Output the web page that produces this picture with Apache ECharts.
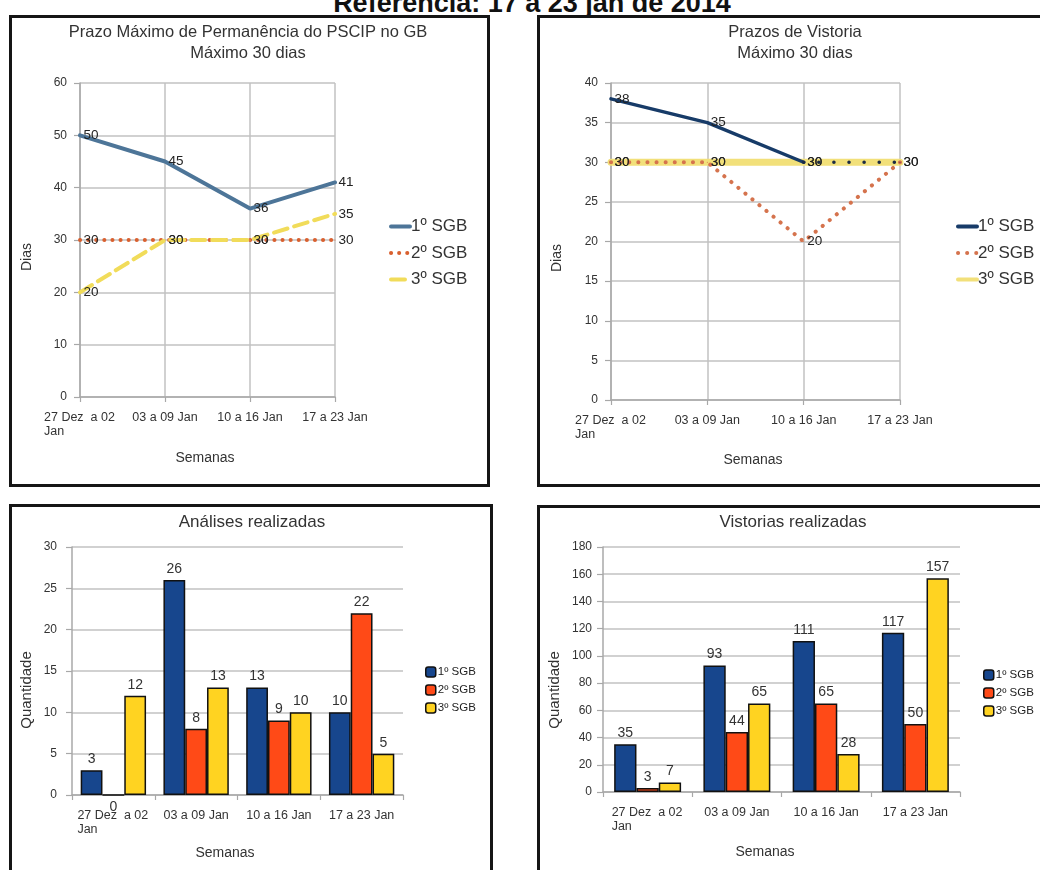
<!DOCTYPE html>
<html><head><meta charset="utf-8">
<script src="https://cdn.jsdelivr.net/npm/echarts@6/dist/echarts.min.js"></script>
<style>
html,body{margin:0;padding:0;width:1040px;height:870px;overflow:hidden;background:#fff;}
#hdr{position:absolute;left:0;width:1064px;top:-10px;text-align:center;font:bold 27px 'Liberation Sans',Arial,sans-serif;line-height:27px;color:#111;white-space:nowrap;}
.panel{position:absolute;box-sizing:border-box;border:3px solid #151515;background:#fff;}
.panel>div{position:absolute;left:0;top:0;width:100%;height:100%;}
</style></head>
<body>
<div id="hdr">Referência: 17 a 23 jan de 2014</div>
<div class="panel" style="left:9px;top:15px;width:481px;height:472px"><div id="c1"></div></div>
<div class="panel" style="left:537px;top:15px;width:520px;height:472px"><div id="c2"></div></div>
<div class="panel" style="left:9px;top:504px;width:484px;height:400px"><div id="c3"></div></div>
<div class="panel" style="left:537px;top:505px;width:520px;height:400px"><div id="c4"></div></div>
<script>
// ---- data ----
const weeks = ["27 Dez  a 02\nJan", "03 a 09 Jan", "10 a 16 Jan", "17 a 23 Jan"];
const sgbNames = ["1º SGB", "2º SGB", "3º SGB"];
const permanencia1 = [50, 45, 36, 41];
const permanencia2 = [30, 30, 30, 30];
const permanencia3 = [20, 30, 30, 35];
const prazoVistoria1 = [38, 35, 30, 30];
const prazoVistoria2 = [30, 30, 20, 30];
const prazoVistoria3 = [30, 30, 30, 30];
const analises1 = [3, 26, 13, 10];
const analises2 = [0, 8, 9, 22];
const analises3 = [12, 13, 10, 5];
const vistorias1 = [35, 93, 111, 117];
const vistorias2 = [3, 44, 65, 50];
const vistorias3 = [7, 65, 28, 157];

// ---- style helpers ----
const FONT = "'Liberation Sans', Arial, sans-serif";
const TXT = '#333';
const GRIDC = '#c2c2c2';
const AXC = '#a8a8a8';

function txt(x, y, text, size, rot) {
  return {type: 'text', x: x, y: y, rotation: rot || 0, z: 10,
    style: {text: text, x: 0, y: 0, align: 'center', verticalAlign: 'middle',
      fontFamily: FONT, fontSize: size, fill: TXT, lineHeight: size + 4}};
}
function labelFmt(v) {
  return v.indexOf('\n') >= 0 ? v.split('\n').map(s => '{w|' + s + '}').join('\n') : v;
}
function catAxis(boundaryGap) {
  return {type: 'category', data: weeks, boundaryGap: boundaryGap,
    axisLine: {lineStyle: {color: AXC, width: 1.5}},
    axisTick: {show: true, length: 5, lineStyle: {color: AXC, width: 1.2}},
    axisLabel: {interval: 0, margin: 14, fontFamily: FONT, fontSize: 12.5, color: TXT, lineHeight: 14,
      formatter: labelFmt,
      rich: {w: {width: 72, align: 'left', fontFamily: FONT, fontSize: 12.5, color: TXT, lineHeight: 14}}},
    splitLine: {show: !boundaryGap, lineStyle: {color: GRIDC, width: 1.5}}};
}
function valAxis(max, interval, margin) {
  return {type: 'value', min: 0, max: max, interval: interval,
    axisLine: {show: true, lineStyle: {color: AXC, width: 1.5}},
    axisTick: {show: true, length: 6, lineStyle: {color: AXC, width: 1.2}},
    axisLabel: {margin: margin, fontFamily: FONT, fontSize: 12, color: TXT},
    splitLine: {lineStyle: {color: GRIDC, width: 1.5}}};
}
function lineLabel() {
  return {show: true, position: 'right', distance: 3, fontFamily: FONT, fontSize: 13.5, color: '#222'};
}
function lineSeries(name, data, color, width, type, z) {
  return {type: 'line', name: name, data: data, z: z, symbol: 'circle', symbolSize: 1,
    itemStyle: {color: color}, lineStyle: {color: color, width: width, type: type, cap: 'round'},
    label: lineLabel(), emphasis: {disabled: true}, animation: false};
}
function lineLegend(left) {
  return {data: sgbNames, orient: 'vertical', left: left, top: 195, itemWidth: 19, itemHeight: 12,
    itemGap: 9.5, itemStyle: {opacity: 0}, lineStyle: {width: 4, cap: 'round'},
    textStyle: {fontFamily: FONT, fontSize: 17, color: TXT, lineHeight: 17, padding: [0, 0, 0, -4]}};
}
function barLegend(left, top) {
  return {data: sgbNames, orient: 'vertical', left: left, top: top, itemWidth: 10, itemHeight: 10,
    itemGap: 6, icon: 'roundRect',
    itemStyle: {borderColor: '#111', borderWidth: 1.5},
    textStyle: {fontFamily: FONT, fontSize: 11.5, color: '#222', lineHeight: 12, padding: [0, 0, 0, -3]}};
}
function barSeries(name, data, color) {
  return {type: 'bar', name: name,
    data: data.map(v => v === 0 ? {value: v, label: {position: 'bottom'}} : v),
    itemStyle: {color: color, borderColor: '#111', borderWidth: 1.5},
    label: {show: true, position: 'top', distance: 4, fontFamily: FONT, fontSize: 14, color: TXT},
    barGap: '0%', emphasis: {disabled: true}, animation: false};
}

// ---- chart 1 ----
const c1 = echarts.init(document.getElementById('c1'));
c1.setOption({
  animation: false,
  grid: {left: 68, top: 65, width: 255, height: 314},
  xAxis: catAxis(false),
  yAxis: valAxis(60, 10, 13),
  legend: lineLegend(372),
  graphic: [
    txt(236, 25, 'Prazo Máximo de Permanência do PSCIP no GB\nMáximo 30 dias', 16.5),
    txt(15, 239, 'Dias', 14, Math.PI / 2),
    txt(193, 440, 'Semanas', 14)
  ],
  series: [
    lineSeries(sgbNames[0], permanencia1, '#4d7598', 4, 'solid', 2),
    lineSeries(sgbNames[1], permanencia2, '#d9602f', 4, [0.1, 8], 3),
    lineSeries(sgbNames[2], permanencia3, '#f1dc5a', 4, [14, 7], 4)
  ]
});

// ---- chart 2 ----
const c2 = echarts.init(document.getElementById('c2'));
const pv1Solid = prazoVistoria1.map((v, i) => i <= 2 ? v : null);
const pv1Dot = prazoVistoria1.map((v, i) => i >= 2 ? v : null);
const s2extra = lineSeries(sgbNames[0], pv1Dot, '#1b2b44', 3.5, [0.1, 15], 5);
s2extra.label = {show: false};
c2.setOption({
  animation: false,
  grid: {left: 71, top: 65, width: 289, height: 317},
  xAxis: catAxis(false),
  yAxis: valAxis(40, 5, 13),
  legend: lineLegend(411),
  graphic: [
    txt(255, 25, 'Prazos de Vistoria\nMáximo 30 dias', 16.5),
    txt(17, 240, 'Dias', 14, Math.PI / 2),
    txt(213, 442, 'Semanas', 14)
  ],
  series: [
    lineSeries(sgbNames[0], pv1Solid, '#173b68', 3.5, 'solid', 4),
    lineSeries(sgbNames[1], prazoVistoria2, '#d5734d', 4, [0.1, 9], 3),
    lineSeries(sgbNames[2], prazoVistoria3, '#f2e07a', 7, 'solid', 2),
    s2extra
  ]
});

// ---- chart 3 ----
const c3 = echarts.init(document.getElementById('c3'));
c3.setOption({
  animation: false,
  grid: {left: 60, top: 40, width: 331, height: 248},
  xAxis: catAxis(true),
  yAxis: valAxis(30, 5, 15),
  legend: barLegend(408, 154),
  graphic: [
    txt(240, 15, 'Análises realizadas', 17),
    txt(15, 183, 'Quantidade', 15, Math.PI / 2),
    txt(213, 346, 'Semanas', 14)
  ],
  series: [
    Object.assign(barSeries(sgbNames[0], analises1, '#17468d'), {barCategoryGap: '21%'}),
    barSeries(sgbNames[1], analises2, '#ff4a17'),
    barSeries(sgbNames[2], analises3, '#ffd321')
  ]
});

// ---- chart 4 ----
const c4 = echarts.init(document.getElementById('c4'));
c4.setOption({
  animation: false,
  grid: {left: 63, top: 39, width: 357, height: 245},
  xAxis: catAxis(true),
  yAxis: valAxis(180, 20, 11),
  legend: barLegend(438, 156),
  graphic: [
    txt(253, 14, 'Vistorias realizadas', 17),
    txt(15, 182, 'Quantidade', 15, Math.PI / 2),
    txt(225, 344, 'Semanas', 14)
  ],
  series: [
    Object.assign(barSeries(sgbNames[0], vistorias1, '#17468d'), {barCategoryGap: '25%'}),
    barSeries(sgbNames[1], vistorias2, '#ff4a17'),
    barSeries(sgbNames[2], vistorias3, '#ffd321')
  ]
});
</script>
</body></html>
